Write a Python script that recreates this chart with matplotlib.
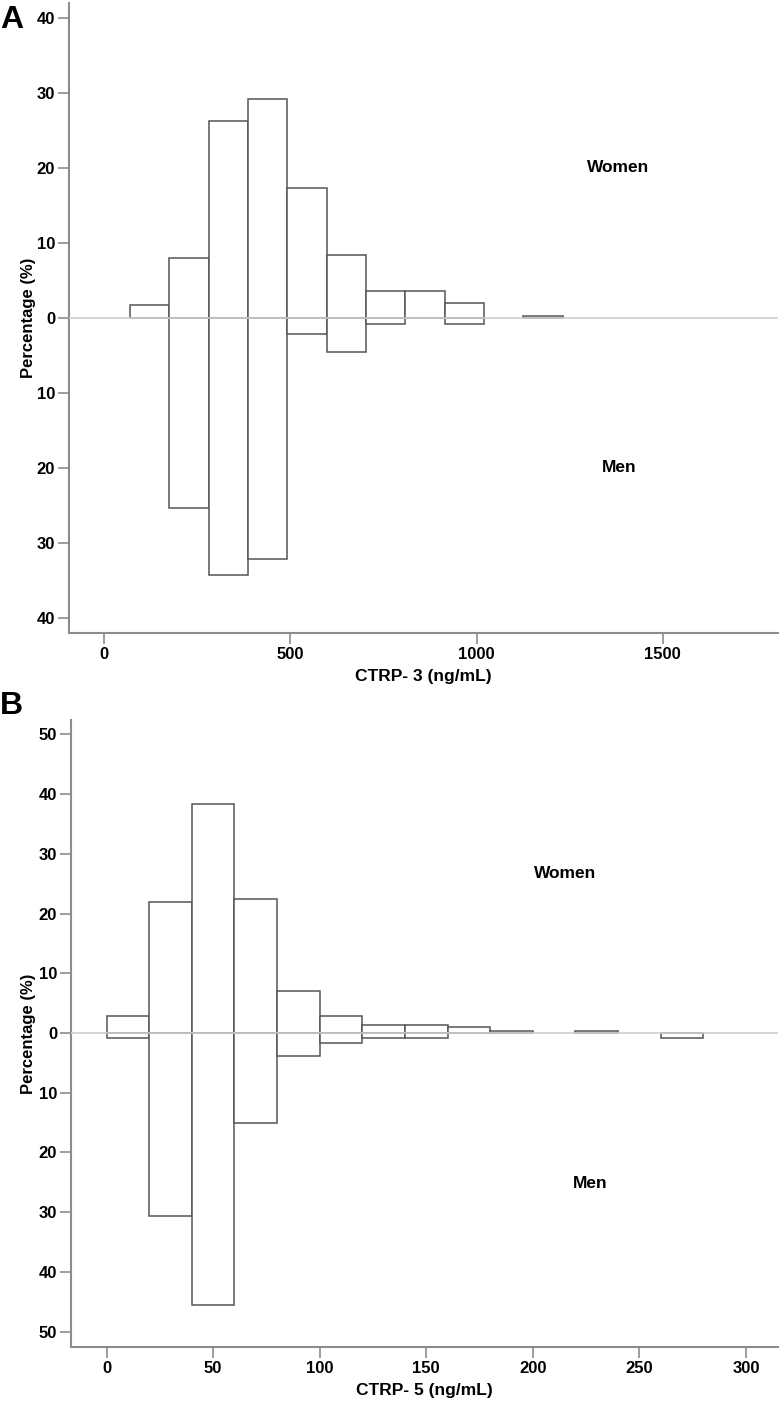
import matplotlib
matplotlib.use("Agg")
import matplotlib.pyplot as plt
from matplotlib.ticker import FuncFormatter

plt.rcParams['font.family'] = ['Liberation Sans', 'DejaVu Sans']
plt.rcParams['font.weight'] = 'bold'

# panel A: CTRP-3 histogram bins (ng/mL)
edges_a = [70, 175.6, 281.2, 386.8, 492.4, 598, 703.6, 809.2, 914.8, 1020.4, 1126, 1231.6]
women_a = [1.7, 8.0, 26.2, 29.2, 17.3, 8.4, 3.6, 3.6, 2.0, 0.0, 0.3]
men_a = [0.0, 25.4, 34.3, 32.1, 2.2, 4.5, 0.8, 0.0, 0.8, 0.0, 0.0]

# panel B: CTRP-5 histogram bins (ng/mL)
edges_b = [0, 20, 40, 60, 80, 100, 120, 140, 160, 180, 200, 220, 240, 260, 280]
women_b = [2.9, 22.0, 38.4, 22.4, 7.0, 2.85, 1.3, 1.3, 1.0, 0.3, 0.0, 0.3, 0.0, 0.0]
men_b = [0.8, 30.6, 45.6, 15.0, 3.8, 1.6, 0.8, 0.8, 0.0, 0.0, 0.0, 0.0, 0.0, 0.8]

spine_col = '#8c8c8c'
bar_col = '#555555'

fig = plt.figure(figsize=(7.82, 14.02), dpi=100)
ax_a = fig.add_axes([0.0882, 0.5485, 0.907, 0.4494])
ax_b = fig.add_axes([0.0908, 0.0392, 0.904, 0.4472])


def draw_panel(ax, edges, women, men, xlim, ylim, yticks, xticks, xlabel, women_xy, men_xy, xlab_y, ylab_x):
    widths = [edges[i + 1] - edges[i] for i in range(len(women))]
    left = edges[:-1]
    for i in range(len(women)):
        if women[i] > 0:
            ax.bar(left[i], women[i], width=widths[i], align='edge', color='white',
                   edgecolor=bar_col, linewidth=1.1, zorder=2)
        if men[i] > 0:
            ax.bar(left[i], -men[i], width=widths[i], align='edge', color='white',
                   edgecolor=bar_col, linewidth=1.1, zorder=2)
    ax.axhline(0, color='#cfcfcf', linewidth=1.2, zorder=3)
    ax.set_xlim(*xlim)
    ax.set_ylim(*ylim)
    ax.set_yticks(yticks)
    ax.set_xticks(xticks)
    ax.yaxis.set_major_formatter(FuncFormatter(lambda v, p: f"{abs(v):.0f}"))
    for s in ['top', 'right']:
        ax.spines[s].set_visible(False)
    for s in ['left', 'bottom']:
        ax.spines[s].set_color(spine_col)
        ax.spines[s].set_linewidth(1.5)
    ax.tick_params(axis='both', colors=spine_col, length=8, width=1.2, labelsize=12,
                   labelcolor='black', pad=2)
    ax.set_ylabel('Percentage (%)', fontsize=12, fontweight='bold')
    ax.yaxis.set_label_coords(ylab_x, 0.5)
    ax.set_xlabel(xlabel, fontsize=12.5, fontweight='bold')
    ax.xaxis.set_label_coords(0.5, xlab_y)
    ax.text(women_xy[0], women_xy[1], 'Women', ha='center', va='center', fontsize=12.5,
            fontweight='bold')
    ax.text(men_xy[0], men_xy[1], 'Men', ha='center', va='center', fontsize=12.5,
            fontweight='bold')


draw_panel(ax_a, edges_a, women_a, men_a, (-94, 1810), (-42, 42),
           [-40, -30, -20, -10, 0, 10, 20, 30, 40], [0, 500, 1000, 1500],
           'CTRP- 3 (ng/mL)', (1379, 20), (1384, -20), -0.057, -0.047)
draw_panel(ax_b, edges_b, women_b, men_b, (-16.7, 315), (-52.6, 52.4),
           [-50, -40, -30, -20, -10, 0, 10, 20, 30, 40, 50], [0, 50, 100, 150, 200, 250, 300],
           'CTRP- 5 (ng/mL)', (215, 26.7), (227, -25.2), -0.058, -0.050)

fig.text(0.0, 0.9855, 'A', fontsize=23, fontweight='bold', va='center', ha='left')
fig.text(0.0, 0.4966, 'B', fontsize=23, fontweight='bold', va='center', ha='left')

fig.savefig('out.png', dpi=100)
